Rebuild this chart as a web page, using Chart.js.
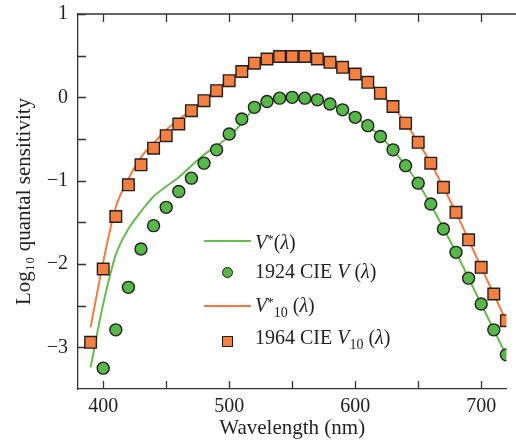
<!DOCTYPE html>
<html>
<head>
<meta charset="utf-8">
<script src="https://cdn.jsdelivr.net/npm/chart.js@4/dist/chart.umd.min.js"></script>
<style>
  html, body { margin: 0; padding: 0; background: #ffffff; }
  #wrap { position: relative; width: 516px; height: 448px; overflow: hidden; }
  #c { position: absolute; left: 0; top: 0; }
  #legend { position: absolute; left: 0; top: 0; width: 516px; height: 448px; pointer-events: none;
            font-family: 'Liberation Serif', 'DejaVu Serif', serif; font-size: 20px; color: #231f20; }
  .row { position: absolute; left: 255px; line-height: 20px; white-space: nowrap; }
  .row sup { font-size: 13px; line-height: 0; vertical-align: 6px; }
  .row sub { font-size: 14px; line-height: 0; vertical-align: -5px; }
  .sym { position: absolute; box-sizing: border-box; }
</style>
</head>
<body>
<div id="wrap">
  <canvas id="c" width="516" height="448"></canvas>
  <div id="legend"></div>
</div>
<script>
// ---------- data ----------
const lineWavelengths = [390,400,410,420,430,440,450,460,470,480,490,500,510,520,530,540,550,560,570,580,590,600,610,620,630,640,650,660,670,680,690,700,710,720];
const vStar = [-3.24,-2.48,-1.89,-1.58,-1.37,-1.19,-1.07,-0.96,-0.82,-0.69,-0.58,-0.47,-0.31,-0.13,-0.05,-0.01,0.00,-0.01,-0.03,-0.08,-0.15,-0.24,-0.34,-0.47,-0.63,-0.82,-1.03,-1.29,-1.57,-1.86,-2.17,-2.48,-2.79,-3.10];
const vStar10 = [-2.76,-1.98,-1.32,-0.98,-0.72,-0.55,-0.39,-0.27,-0.15,-0.03,0.09,0.21,0.31,0.40,0.46,0.49,0.49,0.49,0.46,0.42,0.36,0.28,0.18,0.05,-0.11,-0.31,-0.54,-0.79,-1.08,-1.38,-1.71,-2.04,-2.36,-2.69];

const cie1924Wavelengths = [400,410,420,430,440,450,460,470,480,490,500,510,520,530,540,550,560,570,580,590,600,610,620,630,640,650,660,670,680,690,700,710,720];
const cie1924V = [-3.25,-2.79,-2.28,-1.82,-1.54,-1.32,-1.13,-0.97,-0.79,-0.63,-0.44,-0.26,-0.12,-0.05,-0.01,0.00,-0.01,-0.03,-0.08,-0.15,-0.24,-0.34,-0.47,-0.63,-0.82,-1.03,-1.28,-1.58,-1.86,-2.17,-2.48,-2.79,-3.09];

const cie1964Wavelengths = [390,400,410,420,430,440,450,460,470,480,490,500,510,520,530,540,550,560,570,580,590,600,610,620,630,640,650,660,670,680,690,700,710,720];
const cie1964V10 = [-2.94,-2.06,-1.43,-1.05,-0.81,-0.61,-0.46,-0.32,-0.16,-0.04,0.08,0.20,0.31,0.41,0.46,0.49,0.49,0.49,0.46,0.42,0.36,0.28,0.18,0.05,-0.11,-0.31,-0.54,-0.79,-1.08,-1.38,-1.71,-2.04,-2.36,-2.68];

const xTickValues = [400,450,500,550,600,650,700];
const yTickValues = [-3,-2.5,-2,-1.5,-1,-0.5,0,0.5,1];

const legendNames = [
  '<i>V</i><sup>*</sup>(<i>λ</i>)',
  '1924 CIE <i>V</i> (<i>λ</i>)',
  '<i>V</i><sup>*</sup><sub>10</sub> (<i>λ</i>)',
  '1964 CIE <i>V</i><sub>10</sub> (<i>λ</i>)'
];

// ---------- styles ----------
const GREEN_LINE = '#62bd4c';
const GREEN_FILL = '#55b847';
const ORANGE_LINE = '#f47a3a';
const ORANGE_FILL = '#f4803f';
const DARK = '#231f20';
const AXIS = '#333333';
const FONT = "'Liberation Serif', 'DejaVu Serif', serif";

const toXY = (xs, ys) => xs.map((x, i) => ({ x: x, y: ys[i] }));

// frame plugin: top spine and inward tick marks from scale ticks
const framePlugin = {
  id: 'frame',
  beforeDatasetsDraw(chart) {
    const { ctx, chartArea: a, scales: { x, y } } = chart;
    ctx.save();
    ctx.strokeStyle = AXIS;
    ctx.lineWidth = 1.3;
    ctx.beginPath();
    ctx.moveTo(a.left, a.top);
    ctx.lineTo(chart.width, a.top);
    x.ticks.forEach(t => {
      const px = Math.round(x.getPixelForValue(t.value)) + 0.5;
      ctx.moveTo(px, a.bottom); ctx.lineTo(px, a.bottom - 8);
      ctx.moveTo(px, a.top); ctx.lineTo(px, a.top + 8);
    });
    y.ticks.forEach(t => {
      const py = Math.round(y.getPixelForValue(t.value)) + 0.5;
      ctx.moveTo(a.left, py); ctx.lineTo(a.left + 8, py);
    });
    ctx.stroke();
    ctx.restore();
  }
};

// HTML legend built from the datasets
const htmlLegend = {
  id: 'htmlLegend',
  afterInit(chart) {
    const box = document.getElementById('legend');
    box.innerHTML = '';
    const rowTops = [232, 261, 295, 327];
    const symY = [241, 272, 306, 341];
    chart.data.datasets.forEach((ds, i) => {
      const row = document.createElement('div');
      row.className = 'row';
      row.style.top = rowTops[i] + 'px';
      row.innerHTML = legendNames[i];
      box.appendChild(row);
      const s = document.createElement('div');
      s.className = 'sym';
      if (ds.showLine) {
        s.style.left = '204px'; s.style.width = '47px';
        s.style.top = (symY[i] - 1) + 'px'; s.style.height = '2px';
        s.style.background = ds.borderColor;
      } else {
        s.style.left = '222px'; s.style.top = (symY[i] - 5) + 'px';
        s.style.width = '11px'; s.style.height = '11px';
        s.style.background = ds.backgroundColor;
        s.style.border = '1.5px solid ' + ds.borderColor;
        if (ds.pointStyle === 'circle') s.style.borderRadius = '50%';
      }
      box.appendChild(s);
    });
  }
};

new Chart(document.getElementById('c'), {
  type: 'scatter',
  data: {
    datasets: [
      { label: 'V*(λ)', data: toXY(lineWavelengths, vStar), showLine: true,
        borderColor: GREEN_LINE, borderWidth: 2, pointRadius: 0, cubicInterpolationMode: 'monotone', order: 3 },
      { label: '1924 CIE V(λ)', data: toXY(cie1924Wavelengths, cie1924V), showLine: false,
        pointStyle: 'circle', pointRadius: 6, backgroundColor: GREEN_FILL, borderColor: DARK, borderWidth: 1.4, order: 1 },
      { label: 'V*10(λ)', data: toXY(lineWavelengths, vStar10), showLine: true,
        borderColor: ORANGE_LINE, borderWidth: 2, pointRadius: 0, cubicInterpolationMode: 'monotone', order: 4 },
      { label: '1964 CIE V10(λ)', data: toXY(cie1964Wavelengths, cie1964V10), showLine: false,
        pointStyle: 'rect', pointRadius: 8.2, backgroundColor: ORANGE_FILL, borderColor: DARK, borderWidth: 1.4, order: 2 }
    ]
  },
  options: {
    responsive: false,
    animation: false,
    devicePixelRatio: 1,
    layout: { padding: { top: 14, right: 3, left: 0, bottom: 0 } },
    plugins: { legend: { display: false }, tooltip: { enabled: false } },
    scales: {
      x: {
        type: 'linear', min: 380, max: 720,
        afterBuildTicks: s => { s.ticks = xTickValues.map(v => ({ value: v })); },
        afterFit: s => { s.height = 59; s.paddingLeft = 0; s.paddingRight = 0; },
        grid: { display: false, drawTicks: false, tickLength: 0 },
        border: { color: AXIS, width: 1.3 },
        ticks: {
          padding: 6, color: DARK, font: { family: FONT, size: 20 },
          maxRotation: 0, autoSkip: false,
          callback: v => (v % 100 === 0 ? String(v) : '')
        },
        title: { display: true, text: 'Wavelength (nm)', color: DARK,
                 font: { family: FONT, size: 21 }, padding: { top: 0, bottom: 7 } }
      },
      y: {
        type: 'linear', min: -3.5, max: 1,
        afterBuildTicks: s => { s.ticks = yTickValues.map(v => ({ value: v })); },
        afterFit: s => { s.width = 78; s.paddingTop = 0; s.paddingBottom = 0; },
        grid: { display: false, drawTicks: false, tickLength: 0 },
        border: { color: AXIS, width: 1.3 },
        ticks: {
          padding: 10, color: DARK, font: { family: FONT, size: 20 }, autoSkip: false,
          callback: v => (Number.isInteger(v) ? (v < 0 ? '\u2212' + Math.abs(v) : String(v)) : '')
        },
        title: { display: true, text: 'Log\u2081\u2080 quantal sensitivity', color: DARK,
                 font: { family: FONT, size: 21 }, padding: { top: 12, bottom: 0 } }
      }
    }
  },
  plugins: [framePlugin, htmlLegend]
});
</script>
</body>
</html>
